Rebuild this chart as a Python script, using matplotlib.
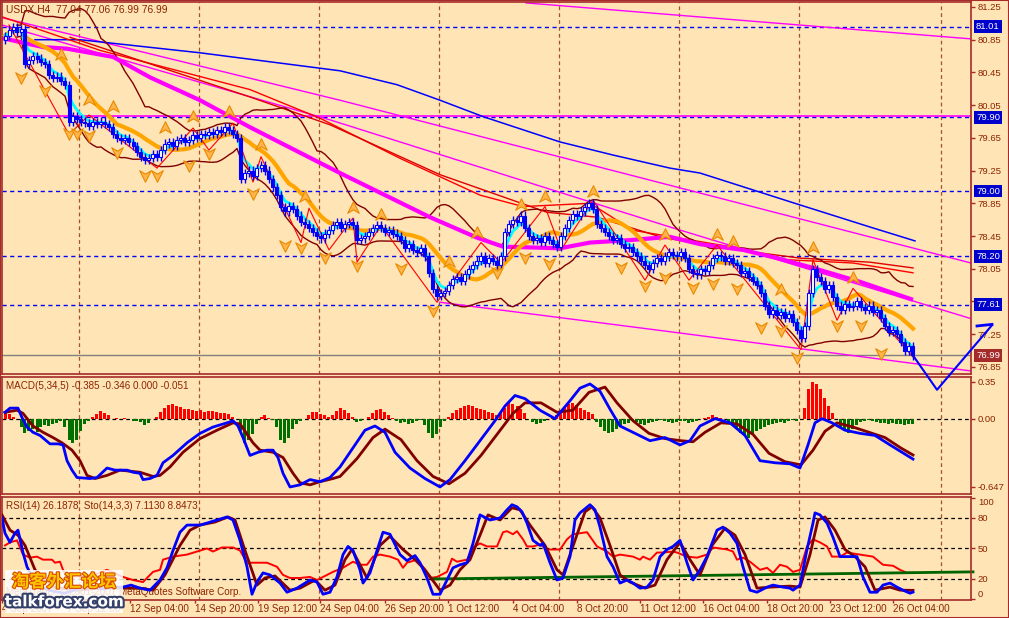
import numpy as np
import pandas as pd
import matplotlib
matplotlib.use("Agg")
import matplotlib.pyplot as plt
from matplotlib.path import Path
from matplotlib.patches import Rectangle
import matplotlib.patheffects as pe

# ---------------------------------------------------------------- data
symbol_title = "USDX,H4  77.04 77.06 76.99 76.99"
macd_title = "MACD(5,34,5) -0.385 -0.346 0.000 -0.051"
osc_title = "RSI(14) 26.1878  Sto(14,3,3) 7.1130 8.8473"
copyright_text = "MetaTrader \u00a9 2001-2007 MetaQuotes Software Corp."
logo_cn = "淘客外汇论坛"
logo_en = "talkforex.com"

first_open = 80.85
closes = [
    80.90, 80.97, 81.00, 80.95, 80.98, 80.55, 80.60, 80.65, 80.62, 80.58,
    80.55, 80.42, 80.38, 80.40, 80.35, 80.30, 79.85, 79.92, 79.88, 79.85,
    79.83, 79.80, 79.84, 79.82, 79.85, 79.82, 79.78, 79.70, 79.65, 79.62,
    79.65, 79.60, 79.55, 79.48, 79.42, 79.38, 79.40, 79.45, 79.42, 79.50,
    79.58, 79.60, 79.55, 79.62, 79.65, 79.60, 79.62, 79.68, 79.65, 79.70,
    79.68, 79.72, 79.70, 79.75, 79.72, 79.78, 79.75, 79.70, 79.65, 79.15,
    79.22, 79.25, 79.18, 79.28, 79.32, 79.25, 79.15, 79.05, 78.95, 78.80,
    78.75, 78.82, 78.78, 78.70, 78.62, 78.60, 78.55, 78.50, 78.45, 78.42,
    78.48, 78.52, 78.58, 78.62, 78.55, 78.60, 78.62, 78.58, 78.40, 78.42,
    78.45, 78.50, 78.55, 78.58, 78.55, 78.50, 78.52, 78.48, 78.45, 78.40,
    78.30, 78.35, 78.28, 78.25, 78.30, 78.20, 78.00, 77.80, 77.72, 77.75,
    77.78, 77.85, 77.92, 77.95, 77.90, 77.98, 78.05, 78.10, 78.15, 78.20,
    78.12, 78.18, 78.15, 78.10, 78.20, 78.50, 78.60, 78.65, 78.62, 78.70,
    78.55, 78.45, 78.40, 78.42, 78.38, 78.45, 78.40, 78.35, 78.32, 78.45,
    78.55, 78.65, 78.72, 78.70, 78.75, 78.80, 78.85, 78.78, 78.60, 78.55,
    78.50, 78.45, 78.40, 78.42, 78.35, 78.30, 78.32, 78.25, 78.20, 78.15,
    78.10, 78.05, 78.12, 78.18, 78.15, 78.20, 78.25, 78.22, 78.20, 78.25,
    78.18, 78.05, 78.00, 77.98, 78.05, 78.02, 78.10, 78.18, 78.22, 78.20,
    78.15, 78.18, 78.12, 78.10, 78.00, 78.02, 77.95, 77.90, 77.85, 77.75,
    77.60, 77.50, 77.55, 77.48, 77.52, 77.45, 77.50, 77.40, 77.30, 77.20,
    77.35, 77.75, 78.05, 77.95, 77.90, 77.80, 77.85, 77.70, 77.60, 77.55,
    77.62, 77.58, 77.60, 77.65, 77.58, 77.55, 77.60, 77.52, 77.55, 77.45,
    77.35, 77.28, 77.30, 77.25, 77.15, 77.05, 77.10, 76.99,
]

# slow moving averages (bar index, price)
magenta_ma_bars = [-0.75, 9.5, 15.5, 27, 36.25, 48.75, 61.25, 83.75, 106.25, 118, 124.5,
                   138.75, 146.25, 156.25, 166.25, 173.75, 184.5, 193, 201.25, 213.75, 227]
magenta_ma_vals = [80.87, 80.76, 80.74, 80.64, 80.39, 80.11, 79.78, 79.22, 78.68, 78.43, 78.32,
                   78.30, 78.37, 78.40, 78.44, 78.35, 78.28, 78.18, 78.07, 77.89, 77.67]
blue_ma_bars = [7.5, 18.75, 48.75, 83.75, 98, 108.75, 119.5, 138.75, 152, 166.25, 173.75, 198.75, 216.25, 227.5]
blue_ma_vals = [80.85, 80.85, 80.69, 80.47, 80.30, 80.11, 79.91, 79.60, 79.44, 79.28, 79.22, 78.83, 78.56, 78.39]
red_ma1_bars = [-0.75, 23.75, 61.25, 78.75, 98.75, 118.75, 129.5, 146.25, 157, 181.25, 195.5, 212, 227]
red_ma1_vals = [81.13, 80.72, 80.24, 79.89, 79.40, 78.95, 78.81, 78.85, 78.52, 78.32, 78.16, 78.12, 78.00]
red_ma2_bars = [16.25, 61.25, 81.25, 108.75, 135.5, 148, 164.5, 183, 198.75, 216.25, 227]
red_ma2_vals = [80.88, 80.15, 79.81, 79.20, 78.74, 78.68, 78.43, 78.28, 78.18, 78.13, 78.06]

# zigzag swing points
zz_bars = [1, 16, 21, 38, 47, 51, 57, 62, 64, 74, 76, 81, 87, 88, 94, 108, 119, 124, 135, 139,
           147, 160, 165, 171, 178, 199, 202, 208, 212, 227]
zz_vals = [81.03, 79.69, 79.93, 79.28, 79.77, 79.50, 79.83, 79.11, 79.42, 78.37, 78.79, 78.28,
           78.67, 78.13, 78.58, 77.64, 78.37, 78.12, 78.81, 78.28, 78.89, 77.91, 78.34, 77.91,
           78.34, 77.06, 78.16, 77.42, 77.81, 76.97]

# fractals
up_f_bars = [14, 21, 27, 40, 47, 56, 64, 75, 87, 94, 111, 118, 129, 135, 147, 165, 178, 182, 194, 202, 212]
up_f_vals = [80.66, 80.11, 80.03, 79.77, 79.90, 79.97, 79.56, 78.93, 78.79, 78.71, 78.13, 78.49,
             78.83, 78.93, 78.99, 78.46, 78.46, 78.38, 77.79, 78.30, 77.94]
dn_f_bars = [4, 10, 16, 18, 21, 28, 35, 38, 46, 51, 62, 70, 74, 80, 88, 99, 107, 123, 130, 136,
             154, 160, 165, 172, 177, 183, 189, 194, 198, 208, 214, 219]
dn_f_vals = [80.39, 80.24, 79.71, 79.71, 79.69, 79.48, 79.20, 79.20, 79.32, 79.47, 78.98, 78.34,
             78.32, 78.19, 78.10, 78.06, 77.55, 78.01, 78.19, 78.12, 78.07, 77.85, 77.95, 77.83,
             77.88, 77.82, 77.34, 77.30, 76.97, 77.36, 77.36, 77.02]

# trend lines (bar, price)
trend1_bars, trend1_vals = [130.25, 241.5], [81.30, 80.86]
trend2_bars, trend2_vals = [-0.75, 83.75, 166.25, 241.5], [81.12, 80.11, 79.07, 78.12]
trend3_bars, trend3_vals = [-0.75, 81.25, 166.25, 241.5], [81.03, 79.87, 78.56, 77.44]
trend4_bars, trend4_vals = [108.75, 166.25, 241.5], [77.64, 77.28, 76.80]
magenta_level = 79.92
level_lines = [81.01, 79.90, 79.00, 78.20, 77.61]
bid_price = 76.99
proj_bars, proj_vals = [227, 233, 246.75], [76.99, 76.57, 77.36]
proj_head_bars, proj_head_vals = [243, 246.75], [77.35, 77.37]

price_ticks = [81.25, 80.85, 80.45, 80.05, 79.65, 79.25, 78.85, 78.45, 78.05, 77.65, 77.25, 76.85]
price_tick_labels = ["81.25", "80.85", "80.45", "80.05", "79.65", "79.25", "78.85", "78.45",
                     "78.05", "", "77.25", "76.85"]

# MACD
macd_hist = [
    0.05, 0.04, 0.02, 0.0, -0.08, -0.14, -0.12, -0.10, -0.13, -0.08,
    -0.06, -0.07, -0.05, -0.04, -0.02, -0.08, -0.20, -0.23, -0.20, -0.12,
    -0.05, -0.02, 0.02, 0.04, 0.07, 0.05, 0.03, 0.0, 0.01, 0.0,
    0.01, 0.0, -0.02, -0.02, -0.03, -0.06, -0.04, 0.0, 0.02, 0.06,
    0.10, 0.13, 0.14, 0.12, 0.11, 0.09, 0.09, 0.08, 0.07, 0.08,
    0.06, 0.07, 0.07, 0.06, 0.05, 0.05, 0.04, 0.02, 0.0, -0.12,
    -0.23, -0.20, -0.15, -0.05, 0.02, 0.03, 0.01, -0.01, -0.08, -0.20,
    -0.23, -0.18, -0.10, -0.05, -0.02, 0.0, 0.03, 0.06, 0.06, 0.04,
    0.03, 0.02, 0.03, 0.07, 0.10, 0.08, 0.05, 0.02, -0.03, -0.02,
    0.0, 0.02, 0.05, 0.08, 0.09, 0.06, 0.03, 0.01, -0.02, -0.04,
    -0.03, -0.05, -0.04, -0.02, -0.01, -0.06, -0.14, -0.18, -0.15, -0.08,
    -0.02, 0.02, 0.05, 0.08, 0.10, 0.12, 0.13, 0.12, 0.10, 0.09,
    0.08, 0.06, 0.05, 0.03, 0.05, 0.10, 0.15, 0.14, 0.12, 0.09,
    0.05, 0.0, -0.03, -0.05, -0.04, -0.02, 0.0, 0.01, 0.03, 0.05,
    0.10, 0.14, 0.15, 0.13, 0.10, 0.08, 0.06, 0.04, -0.03, -0.08,
    -0.12, -0.14, -0.13, -0.10, -0.08, -0.05, -0.04, -0.02, -0.03, -0.05,
    -0.06, -0.04, -0.03, -0.02, -0.01, -0.02, -0.03, -0.04, -0.03, -0.02,
    -0.02, -0.04, -0.03, -0.02, 0.0, 0.01, 0.02, 0.03, 0.02, 0.01,
    0.0, -0.03, -0.06, -0.10, -0.14, -0.17, -0.18, -0.15, -0.12, -0.10,
    -0.08, -0.06, -0.05, -0.04, -0.03, -0.04, -0.02, -0.01, -0.02, 0.0,
    0.10, 0.28, 0.35, 0.33, 0.28, 0.20, 0.12, 0.05, 0.0, -0.08,
    -0.12, -0.14, -0.10, -0.06, -0.03, -0.02, -0.01, -0.02, -0.03, -0.04,
    -0.04, -0.05, -0.04, -0.05, -0.05, -0.06, -0.05, -0.05,
]
macd_main_bars = [0, 1.25, 3.25, 4.25, 5.5, 7, 8.75, 11.25, 13.25, 14.5, 15.5, 16.75, 18, 21.25, 23,
                  25.5, 27.5, 30.5, 32, 33.75, 34.5, 36.25, 38, 39.5, 42, 45.5, 48.75, 52, 55.5, 57,
                  58.25, 59.5, 61.25, 63.25, 65.5, 67, 68.25, 69.5, 71.25, 73.75, 76.25, 78.75, 81.25,
                  83.75, 87.5, 90, 92.5, 95, 97.5, 101.25, 105, 108.75, 111.25, 115, 118.75, 122.5,
                  125, 127.5, 130, 133.75, 137.5, 141.25, 143.75, 146.25, 148.75, 151.25, 153.75,
                  157.5, 161.25, 165, 168.75, 171.25, 173.75, 177.5, 181.25, 185, 188.75, 192.5,
                  196.25, 198.75, 200.75, 202.5, 204.25, 206.75, 210, 213.75, 217.5, 221.25, 227]
macd_main_vals = [0.06, 0.10, 0.10, 0.01, -0.08, -0.13, -0.16, -0.24, -0.24, -0.25, -0.40, -0.49,
                  -0.56, -0.57, -0.56, -0.47, -0.49, -0.49, -0.51, -0.52, -0.58, -0.57, -0.54, -0.42,
                  -0.35, -0.23, -0.14, -0.08, -0.04, -0.02, -0.07, -0.18, -0.35, -0.32, -0.30, -0.30,
                  -0.37, -0.52, -0.65, -0.63, -0.58, -0.60, -0.56, -0.46, -0.25, -0.11, -0.07, -0.13,
                  -0.32, -0.47, -0.57, -0.65, -0.58, -0.40, -0.21, -0.02, 0.12, 0.22, 0.19, 0.08,
                  0.0, 0.17, 0.29, 0.33, 0.26, 0.09, -0.07, -0.14, -0.21, -0.18, -0.25, -0.21,
                  -0.07, 0.0, -0.04, -0.16, -0.40, -0.42, -0.43, -0.47, -0.25, -0.04, 0.0, -0.04,
                  -0.11, -0.14, -0.16, -0.25, -0.385]
macd_sig_bars = [0, 3, 4.5, 7, 9.5, 12, 14.25, 16.75, 18.75, 20.5, 22.5, 25.5, 28.75, 33.75, 37,
                 38.75, 41.25, 44.5, 48.75, 53, 57, 58.75, 62, 63.75, 67, 69.5, 72, 73.75, 76.25,
                 78.75, 82, 83.75, 88, 92, 95, 99, 103, 107, 111, 115, 119, 123, 127, 130, 134, 138,
                 142, 146, 150, 153, 157, 161, 165, 169, 172, 175, 179, 183, 187, 191, 195, 199,
                 202, 205, 208, 212, 216, 220, 224, 227]
macd_sig_vals = [0.06, 0.08, 0.05, -0.07, -0.13, -0.18, -0.23, -0.30, -0.40, -0.54, -0.57, -0.54,
                 -0.49, -0.51, -0.55, -0.54, -0.46, -0.32, -0.19, -0.11, -0.04, -0.05, -0.23, -0.30,
                 -0.32, -0.37, -0.52, -0.61, -0.63, -0.60, -0.57, -0.55, -0.38, -0.18, -0.10, -0.20,
                 -0.40, -0.55, -0.62, -0.52, -0.35, -0.15, 0.05, 0.15, 0.15, 0.06, 0.08, 0.25, 0.30,
                 0.15, -0.02, -0.14, -0.19, -0.21, -0.22, -0.13, -0.04, -0.05, -0.15, -0.33, -0.41,
                 -0.44, -0.30, -0.12, -0.04, -0.08, -0.13, -0.18, -0.28, -0.346]
macd_ticks = [0.35, 0.0, -0.647]
macd_tick_labels = ["0.35", "0.00", "-0.647"]

# RSI / Stochastic
rsi_bars = [0, 1.25, 3, 4.5, 6.25, 8, 9.5, 11.75, 12.5, 13.75, 14.5, 15.5, 18, 20, 23, 25.5, 29.5,
            32, 34.5, 37, 38.75, 39.5, 42, 45.5, 48, 50.5, 52, 54.25, 57, 58.75, 60.5, 63, 65.5,
            68, 69.5, 71.25, 73.75, 76.25, 78, 79.5, 82, 84.5, 87, 88.75, 90.5, 92, 93.75, 96.25,
            98.25, 99.5, 100.5, 103, 104.5, 106.25, 108, 110.5, 111.75, 113, 115.5, 117, 118.75,
            120.5, 123, 124.5, 125.5, 127, 128, 129.5, 130.5, 132, 133.75, 135.5, 138.75, 140.5,
            142, 145.5, 148, 150.5, 152, 153.75, 157, 158.75, 159.5, 161.25, 163, 164.5, 167,
            168, 170.5, 173, 175.5, 177, 180.5, 182, 183, 184.5, 186.25, 188.75, 190.5, 192,
            193.75, 195.5, 197, 198.75, 200.5, 202, 203.75, 205.5, 206.75, 208.75, 210.5, 213.75,
            217, 219.5, 222, 223.75, 225.5, 227]
rsi_vals = [53, 56, 58, 44, 41, 42, 39, 39, 36, 37, 29, 22, 24, 22, 25, 29, 22, 19, 17, 27,
            29, 39, 42, 44, 47, 50, 47, 51, 51, 48, 36, 36, 36, 32, 24, 21, 21, 22, 19, 22,
            27, 31, 37, 34, 34, 42, 44, 42, 39, 31, 36, 39, 32, 21, 22, 27, 40, 37, 39, 51,
            55, 52, 52, 66, 67, 64, 67, 59, 52, 52, 54, 49, 49, 59, 64, 66, 52, 47, 42, 44,
            42, 39, 42, 39, 46, 46, 47, 46, 42, 41, 44, 51, 49, 47, 39, 41, 37, 29, 31, 26,
            34, 32, 27, 29, 52, 59, 56, 52, 42, 42, 46, 44, 42, 34, 33, 29, 26, 26.19]
sto_main_bars = [-0.75, 0, 1.25, 2.5, 3.25, 4.5, 5.5, 7, 9, 12, 15, 18, 21, 24, 27, 29.5, 31.5,
                 33.75, 36.25, 38.75, 40.5, 42, 43.75, 45.5, 48.75, 50.5, 53, 55.5, 57, 58.75,
                 60.5, 61.75, 63, 64.5, 66.25, 68.75, 70.5, 73, 76.25, 78, 79.5, 81.25, 83, 84.5,
                 85.75, 87, 88.75, 89.5, 91.25, 93, 94.5, 96.25, 98.75, 100.5, 102.5, 103.75,
                 105.5, 107, 108.75, 110.5, 112, 113.75, 115.5, 117, 118.75, 121.25, 123.75,
                 125.5, 126.75, 128, 129.25, 130.5, 132, 133.75, 134.5, 136.25, 138, 139.5,
                 141.25, 142.5, 143.75, 146.25, 147.5, 148.75, 150.5, 152, 153.75, 155.5, 157,
                 158.75, 160.5, 162, 163.75, 165.5, 167, 168.75, 170.5, 172, 173.75, 175.5, 178,
                 179.5, 181.25, 183, 184.5, 186.25, 188, 190.5, 192, 194.5, 196.25, 197, 198.75,
                 200.5, 202, 202.5, 203.75, 205.5, 207, 208.75, 211.25, 213, 214.5, 216.25, 218,
                 219.5, 221.25, 223, 224.5, 226.25, 227]
sto_main_vals = [80, 65, 56, 65, 68, 46, 32, 20, 12, 8, 6, 10, 14, 10, 12, 12, 14, 11, 9, 19,
                 31, 48, 66, 73, 73, 75, 78, 81, 78, 58, 32, 5, 17, 26, 24, 16, 7, 11, 19, 17,
                 5, 7, 22, 44, 52, 48, 29, 16, 26, 48, 66, 64, 44, 38, 43, 36, 21, 5, 5, 19,
                 31, 34, 36, 55, 83, 78, 80, 88, 93, 91, 86, 75, 58, 53, 55, 36, 19, 21, 42, 78,
                 85, 93, 88, 71, 42, 32, 16, 19, 16, 11, 12, 19, 42, 49, 52, 58, 36, 19, 29, 42,
                 68, 71, 65, 55, 32, 9, 7, 12, 14, 12, 11, 9, 14, 49, 75, 85, 83, 75, 61, 42,
                 42, 42, 22, 7, 7, 14, 16, 12, 9, 6, 7.11]
sto_sig_bars = [-0.75, 1.25, 3.25, 5, 7.5, 12, 18, 24, 29.5, 33.75, 37, 40, 43.75, 46.25, 48.75,
                52.5, 55.75, 57.5, 60, 63, 65, 67.5, 71.25, 73.75, 77.5, 80, 82.5, 85, 86.75,
                88.75, 90.5, 93.75, 96.25, 99.5, 102.5, 105, 108.75, 111.25, 113.75, 116.25,
                118.75, 120.75, 123.75, 126.75, 128.75, 131.25, 135, 138, 139.5, 142.5, 145,
                146.75, 148.75, 151.25, 153.75, 156.25, 160, 162.5, 165.5, 168.75, 171.25,
                173.75, 176.75, 180, 182.5, 185, 188, 191.25, 196.25, 198.75, 201.25, 203.25,
                205, 207.5, 210, 212.5, 215, 217.5, 221.25, 223.75, 227]
sto_sig_vals = [83, 68, 63, 53, 29, 12, 9, 11, 11, 11, 9, 24, 53, 68, 73, 76, 81, 78, 48, 14,
                21, 23, 9, 11, 19, 9, 14, 39, 49, 34, 21, 53, 62, 49, 39, 29, 9, 14, 29, 39,
                63, 83, 78, 90, 88, 73, 53, 29, 24, 58, 86, 91, 80, 53, 24, 17, 11, 14, 39, 56,
                39, 24, 53, 70, 63, 44, 11, 12, 13, 12, 44, 78, 81, 68, 49, 42, 32, 9, 12, 9, 8.85]
osc_trend_bars, osc_trend_vals = [106.75, 242], [20.0, 27.0]
osc_ticks = [100, 80, 50, 20, 0]

time_labels = ["4 Sep 2007", "7 Sep 12:00", "12 Sep 04:00", "14 Sep 20:00", "19 Sep 12:00",
               "24 Sep 04:00", "26 Sep 20:00", "1 Oct 12:00", "4 Oct 04:00", "8 Oct 20:00",
               "11 Oct 12:00", "16 Oct 04:00", "18 Oct 20:00", "23 Oct 12:00", "26 Oct 04:00"]
time_label_bars = [-0.75, 15.5, 31.25, 47.5, 63.25, 78.75, 95, 110.75, 127, 143, 158.75, 174.5,
                   190.5, 206.25, 222]
grid_bars = [18.5, 48.5, 78.5, 108.5, 138.5, 168.5, 198.5, 234]

assert len(macd_hist) == len(closes) == 228
assert len(macd_main_bars) == len(macd_main_vals)
assert len(macd_sig_bars) == len(macd_sig_vals)
assert len(rsi_bars) == len(rsi_vals)
assert len(sto_main_bars) == len(sto_main_vals)
assert len(sto_sig_bars) == len(sto_sig_vals)

# ---------------------------------------------------------------- style
BG = "#FFE4B5"
FRAME = "#A52A2A"
TXT = "#8B2500"
GRID = "#A0522D"
FONT = "Liberation Sans"
FS = 6.8
plt.rcParams["font.family"] = [FONT, "DejaVu Sans"]

c = pd.Series(closes, dtype=float)
opens = np.array([first_open] + closes[:-1])
cl = np.array(closes)
idx = np.arange(len(closes))
cyan_ma = c.ewm(span=4, adjust=False).mean()
orange_ma = c.rolling(13, min_periods=1).mean()
bb_mid = c.rolling(20, min_periods=4).mean()
bb_sd = c.rolling(20, min_periods=4).std(ddof=0)
bb_up = bb_mid + 2 * bb_sd
bb_dn = bb_mid - 2 * bb_sd

W, H = 1009, 618
fig = plt.figure(figsize=(W / 100, H / 100), dpi=100)
fig.patch.set_facecolor(BG)


def place(l, t, r, b):
    return [l / W, 1 - b / H, (r - l) / W, (b - t) / H]


ax = fig.add_axes(place(2, 2, 971, 374))
axm = fig.add_axes(place(2, 377, 971, 494))
axr = fig.add_axes(place(2, 497, 971, 600))
ax.set_zorder(3)
XL = (-0.75, 241.5)

for a in (ax, axm, axr):
    a.set_facecolor(BG)
    a.set_xlim(*XL)
    for s in a.spines.values():
        s.set_color(FRAME)
        s.set_linewidth(1.2)
    a.yaxis.tick_right()
    a.tick_params(axis="y", direction="out", length=3, width=1, colors=FRAME,
                  labelcolor=TXT, labelsize=FS, pad=2)
    for g in grid_bars:
        a.axvline(g, color=GRID, lw=0.9, ls=(0, (3, 2.5)), zorder=0.5)
for a in (ax, axm):
    a.tick_params(axis="x", bottom=False, labelbottom=False)

# ---------------------------------------------------------------- main panel
ax.set_ylim(76.763, 81.311)
ax.set_yticks(price_ticks)
ax.set_yticklabels(price_tick_labels)

for lv in level_lines:
    ax.axhline(lv, color="#0000FF", lw=1, ls=(0, (3, 2.5)), zorder=1)
ax.axhline(magenta_level, color="#FF00FF", lw=1.2, zorder=1.2)
ax.axhline(bid_price, color="#808080", lw=1, zorder=1)

for tb, tv in ((trend1_bars, trend1_vals), (trend2_bars, trend2_vals),
               (trend3_bars, trend3_vals), (trend4_bars, trend4_vals)):
    ax.plot(tb, tv, color="#FF00FF", lw=1, zorder=1.5)

ax.plot(blue_ma_bars, blue_ma_vals, color="#0000FF", lw=1.1, zorder=2)
ax.plot(red_ma1_bars, red_ma1_vals, color="#FF0000", lw=1, zorder=2)
ax.plot(red_ma2_bars, red_ma2_vals, color="#E00000", lw=1, zorder=2)
ax.plot(idx, bb_up, color="#800000", lw=1, zorder=2)
ax.plot(idx, bb_dn, color="#800000", lw=1, zorder=2)
ax.plot(magenta_ma_bars, magenta_ma_vals, color="#FF00FF", lw=3, zorder=2.5, solid_capstyle="butt")
ax.plot(idx, orange_ma, color="#FFA500", lw=3, zorder=2.6)
ax.plot(idx, cyan_ma, color="#00FFFF", lw=2, zorder=2.7)
ax.plot(zz_bars, zz_vals, color="#FF0000", lw=0.8, zorder=2.8)

# candles
WICK = 0.05
top = np.maximum(opens, cl)
bot = np.minimum(opens, cl)
ax.vlines(idx, bot - WICK, top + WICK, color="#0000FF", lw=1, zorder=4)
bull = cl >= opens
hgt = np.maximum(top - bot, 0.006)
ax.bar(idx[bull], hgt[bull], bottom=bot[bull], width=0.75, facecolor="white",
       edgecolor="#0000FF", linewidth=0.8, zorder=5)
ax.bar(idx[~bull], hgt[~bull], bottom=bot[~bull], width=0.75, facecolor="#0000FF",
       edgecolor="#0000FF", linewidth=0.8, zorder=5)

# fractals
up_marker = Path([(0, 1), (0.85, -0.7), (0, -0.2), (-0.85, -0.7), (0, 1)],
                 [Path.MOVETO, Path.LINETO, Path.LINETO, Path.LINETO, Path.CLOSEPOLY])
dn_marker = Path([(0, -1), (0.85, 0.7), (0, 0.2), (-0.85, 0.7), (0, -1)],
                 [Path.MOVETO, Path.LINETO, Path.LINETO, Path.LINETO, Path.CLOSEPOLY])
ax.scatter(up_f_bars, up_f_vals, marker=up_marker, s=95, c="#FFB54A", edgecolors="#E88A00",
           linewidths=0.8, zorder=6)
ax.scatter(dn_f_bars, dn_f_vals, marker=dn_marker, s=95, c="#FFB54A", edgecolors="#E88A00",
           linewidths=0.8, zorder=6)

# projection arrow
ax.plot(proj_bars, proj_vals, color="#0000FF", lw=1.5, zorder=20, clip_on=False)
ax.plot(proj_head_bars, proj_head_vals, color="#0000FF", lw=2, zorder=20, clip_on=False)

ax.annotate(symbol_title, xy=(0, 1), xycoords="axes fraction", xytext=(4, -3),
            textcoords="offset pixels", va="top", ha="left", fontsize=FS + 0.6, color=TXT)

for lv in level_lines:
    ax.annotate(f"{lv:.2f}", xy=(1, lv), xycoords=("axes fraction", "data"), xytext=(5, 0),
                textcoords="offset pixels", va="center", ha="left", fontsize=FS, color="white",
                bbox=dict(boxstyle="square,pad=0.2", fc="#0000CD", ec="none"),
                annotation_clip=False, zorder=30)
ax.annotate(f"{bid_price:.2f}", xy=(1, bid_price), xycoords=("axes fraction", "data"),
            xytext=(5, 0), textcoords="offset pixels", va="center", ha="left", fontsize=FS,
            color="white", bbox=dict(boxstyle="square,pad=0.2", fc="#A52A2A", ec="none"),
            annotation_clip=False, zorder=30)

# ---------------------------------------------------------------- MACD panel
axm.set_ylim(-0.717, 0.396)
axm.set_yticks(macd_ticks)
axm.set_yticklabels(macd_tick_labels)
axm.axhline(0, color="black", lw=0.9, ls=(0, (3, 2.5)), zorder=1)
hist = np.array(macd_hist)
cols = np.where(hist >= 0, "#FF0000", "#007000")
axm.bar(idx, hist, width=0.75, color=cols, zorder=2)
axm.plot(macd_sig_bars, macd_sig_vals, color="#800000", lw=2, zorder=3)
axm.plot(macd_main_bars, macd_main_vals, color="#0000FF", lw=2, zorder=3.1)
axm.annotate(macd_title, xy=(0, 1), xycoords="axes fraction", xytext=(4, -4),
             textcoords="offset pixels", va="top", ha="left", fontsize=FS + 0.3, color=TXT)

# ---------------------------------------------------------------- RSI / Stoch panel
axr.set_ylim(-0.65, 100.6)
axr.set_yticks(osc_ticks)
axr.set_yticklabels([str(v) for v in osc_ticks])
for lvl in (80, 50, 20):
    axr.axhline(lvl, color="black", lw=0.9, ls=(0, (3, 2.5)), zorder=1)
axr.plot(rsi_bars, rsi_vals, color="#FF0000", lw=1.4, zorder=2)
axr.plot(osc_trend_bars, osc_trend_vals, color="#006400", lw=2, zorder=2.2, clip_on=False)
axr.plot(sto_sig_bars, sto_sig_vals, color="#800000", lw=2, zorder=3)
axr.plot(sto_main_bars, sto_main_vals, color="#0000FF", lw=2, zorder=3.1)
axr.annotate(osc_title, xy=(0, 1), xycoords="axes fraction", xytext=(4, -4),
             textcoords="offset pixels", va="top", ha="left", fontsize=FS + 0.3, color=TXT)
axr.annotate(copyright_text, xy=(0, 0), xycoords="axes fraction", xytext=(4, 3),
             textcoords="offset pixels", va="bottom", ha="left", fontsize=FS + 0.3, color=TXT)
axr.set_xticks(time_label_bars)
axr.set_xticklabels(time_labels, ha="left")
axr.tick_params(axis="x", direction="out", length=2, width=1, colors=FRAME, labelcolor=TXT,
                labelsize=FS + 0.3, pad=1)
labs = axr.get_yticklabels()
labs[0].set_va("top")
labs[-1].set_va("bottom")

# ---------------------------------------------------------------- watermark logo
lg = fig.add_axes(place(5, 570, 123, 613))
lg.set_axis_off()
lg.set_xlim(0, 1)
lg.set_ylim(0, 1)
lg.add_patch(Rectangle((0, 0), 1, 1, fc="white", ec="none", alpha=0.85))
lg.text(0.5, 0.72, logo_cn, ha="center", va="center", fontsize=12.5, fontweight="bold",
        family=["Noto Sans CJK SC"], color="#FFC400",
        path_effects=[pe.withStroke(linewidth=1.6, foreground="#D84A00")])
lg.text(0.5, 0.26, logo_en, ha="center", va="center", fontsize=11, fontweight="bold",
        family=["DejaVu Sans"], color="white",
        path_effects=[pe.withStroke(linewidth=3, foreground="#34406A")])

fig.patches.append(Rectangle((0, 0), 1, 1, transform=fig.transFigure, fill=False,
                             ec=FRAME, lw=1.5))

fig.savefig("out.png", dpi=100, facecolor=BG)
